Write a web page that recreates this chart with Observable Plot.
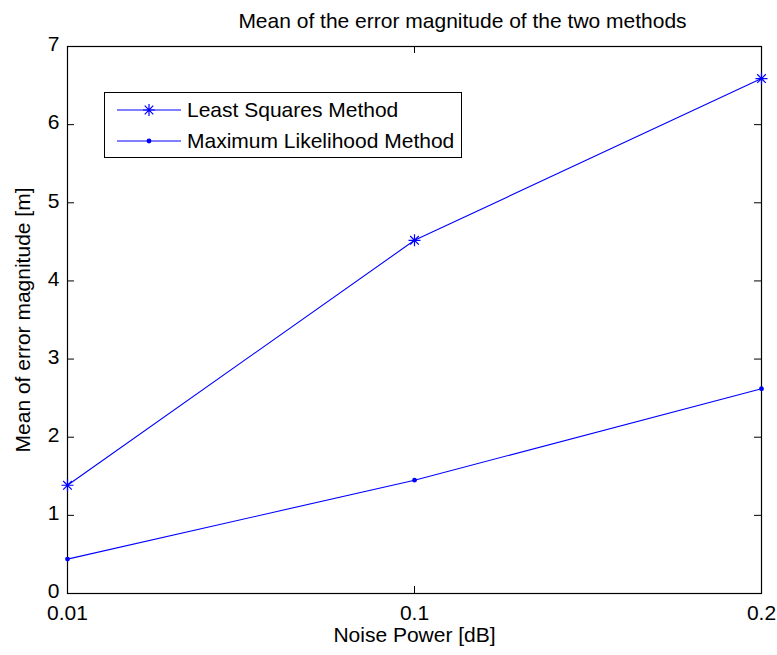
<!DOCTYPE html>
<html>
<head>
<meta charset="utf-8">
<script src="https://cdn.jsdelivr.net/npm/d3@7"></script>
<script src="https://cdn.jsdelivr.net/npm/@observablehq/plot@0.6"></script>
<style>
  html, body { margin: 0; padding: 0; background: #fff; }
  #wrap { position: relative; width: 777px; height: 655px; font-family: "Liberation Sans", Arial, Helvetica, sans-serif; }
  #legend { position: absolute; left: 104px; top: 92px; width: 358px; height: 66px;
            border: 1.2px solid #000; background: #fff; box-sizing: border-box; }
  #legend .row { position: absolute; left: 0; height: 30px; display: flex; align-items: center; font-size: 21px; color: #000; white-space: nowrap; }
  #legend svg { margin-left: 12px; margin-right: 6px; }
</style>
</head>
<body>
<div id="wrap"></div>
<script>
// Noise power levels (category labels on the x axis)
const noiseLevels = ["0.01", "0.1", "0.2"];
// Mean error magnitude [m] for each method
const leastSquares = [1.385, 4.52, 6.59];
const maxLikelihood = [0.44, 1.45, 2.62];
// Y axis tick values
const yTicks = [0, 1, 2, 3, 4, 5, 6, 7];

const seriesNames = ["Least Squares Method", "Maximum Likelihood Method"];
const rows = noiseLevels.flatMap((x, i) => [
  {x, y: leastSquares[i], method: seriesNames[0]},
  {x, y: maxLikelihood[i], method: seriesNames[1]}
]);
const lsRows = rows.filter(d => d.method === seriesNames[0]);
const mlRows = rows.filter(d => d.method === seriesNames[1]);

const blue = "#0000ff";
const font = "'Liberation Sans', Arial, Helvetica, sans-serif";
const fs = 21;

// Eight-armed asterisk marker (plus and cross combined)
const asterisk = {
  draw(context, size) {
    const r = Math.sqrt(size / Math.PI);
    const d = r * 0.72;
    context.moveTo(-r, 0); context.lineTo(r, 0);
    context.moveTo(0, -r); context.lineTo(0, r);
    context.moveTo(-d, -d); context.lineTo(d, d);
    context.moveTo(-d, d); context.lineTo(d, -d);
  }
};

const W = 777, H = 655;
const mL = 67, mR = 16, mT = 46, mB = 62;
const frameW = W - mL - mR, frameH = H - mT - mB;
const tickLen = 7;

const chart = Plot.plot({
  width: W,
  height: H,
  marginLeft: mL,
  marginRight: mR,
  marginTop: mT,
  marginBottom: mB,
  style: {fontFamily: font, fontSize: fs + "px", color: "#000", background: "#fff"},
  x: {type: "point", domain: noiseLevels, padding: 0},
  y: {domain: [0, 7]},
  marks: [
    // inward ticks on all four sides
    Plot.tickY(yTicks, {y: d => d, insetRight: frameW - tickLen, stroke: "#000"}),
    Plot.tickY(yTicks, {y: d => d, insetLeft: frameW - tickLen, stroke: "#000"}),
    Plot.tickX(noiseLevels, {x: d => d, insetTop: frameH - tickLen, stroke: "#000"}),
    Plot.tickX(noiseLevels, {x: d => d, insetBottom: frameH - tickLen, stroke: "#000"}),
    Plot.axisX({tickSize: 0, tickPadding: 12, label: null, fontSize: fs}),
    Plot.axisY({ticks: yTicks, tickFormat: d3.format("d"), tickSize: 0, tickPadding: 8, dy: -2, label: null, fontSize: fs}),
    Plot.frame({stroke: "#000", strokeWidth: 1.2}),
    // series
    Plot.line(lsRows, {x: "x", y: "y", stroke: blue, strokeWidth: 1.1}),
    Plot.line(mlRows, {x: "x", y: "y", stroke: blue, strokeWidth: 1.1}),
    Plot.dot(lsRows, {x: "x", y: "y", symbol: asterisk, r: 6, stroke: blue, strokeWidth: 1.2, fill: "none"}),
    Plot.dot(mlRows, {x: "x", y: "y", r: 2.4, fill: blue, stroke: "none"}),
    // titles
    Plot.text(["Mean of the error magnitude of the two methods"], {
      text: d => d, frameAnchor: "top", textAnchor: "middle", lineAnchor: "middle",
      dx: 48, dy: -25, fontSize: fs, fill: "#000"
    }),
    Plot.text(["Noise Power [dB]"], {
      text: d => d, frameAnchor: "bottom", textAnchor: "middle", lineAnchor: "middle",
      dy: 42, fontSize: fs, fill: "#000"
    }),
    Plot.text(["Mean of error magnitude [m]"], {
      text: d => d, frameAnchor: "left", textAnchor: "middle", lineAnchor: "middle",
      rotate: -90, dx: -44, fontSize: fs, fill: "#000"
    })
  ]
});

const wrap = document.getElementById("wrap");
wrap.appendChild(chart);

// Legend box
const legend = document.createElement("div");
legend.id = "legend";
const sample = (withStar) =>
  `<svg width="64" height="14" viewBox="0 0 64 14">
    <line x1="0" y1="7" x2="64" y2="7" stroke="${blue}" stroke-width="1.1"/>` +
  (withStar
    ? `<path d="M26,7H38M32,1V13M27.7,2.7L36.3,11.3M27.7,11.3L36.3,2.7" stroke="${blue}" stroke-width="1.2" fill="none"/>`
    : `<circle cx="32" cy="7" r="2.4" fill="${blue}"/>`) +
  `</svg>`;
legend.innerHTML =
  `<div class="row" style="top:2px">${sample(true)}<span>${seriesNames[0]}</span></div>` +
  `<div class="row" style="top:33px">${sample(false)}<span>${seriesNames[1]}</span></div>`;
wrap.appendChild(legend);
</script>
</body>
</html>
